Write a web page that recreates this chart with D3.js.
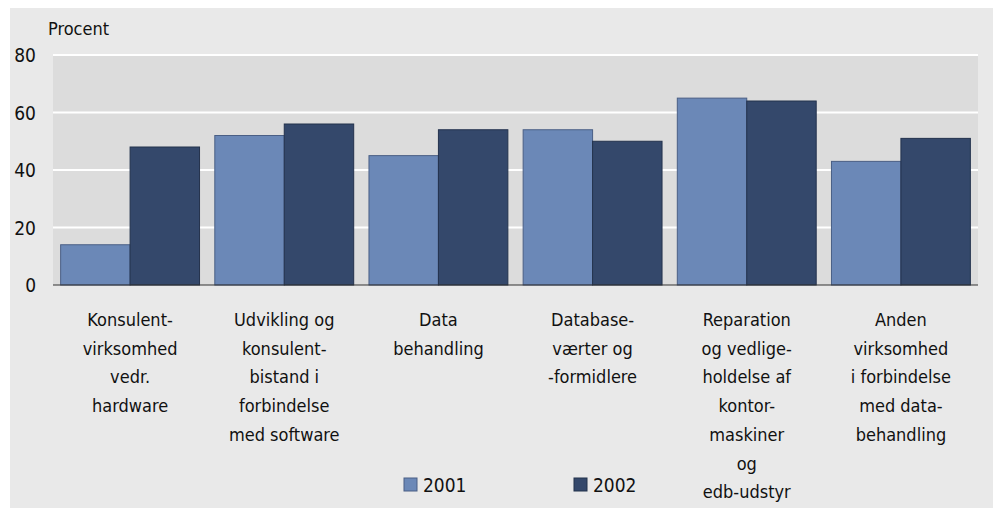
<!DOCTYPE html>
<html>
<head>
<meta charset="utf-8">
<script src="https://cdn.jsdelivr.net/npm/d3@7"></script>
<style>
  body { margin: 0; background: #fff; }
  text { font-family: "DejaVu Sans Condensed", "Liberation Sans", sans-serif; font-stretch: condensed; fill: #111; }
</style>
</head>
<body>
<div id="chart"></div>
<script>
// data
var categories = [
  ['Konsulent-', 'virksomhed', 'vedr.', 'hardware'],
  ['Udvikling og', 'konsulent-', 'bistand i', 'forbindelse', 'med software'],
  ['Data', 'behandling'],
  ['Database-', 'værter og', '-formidlere'],
  ['Reparation', 'og vedlige-', 'holdelse af', 'kontor-', 'maskiner', 'og', 'edb-udstyr'],
  ['Anden', 'virksomhed', 'i forbindelse', 'med data-', 'behandling']
];
var series = ['2001', '2002'];
var values2001 = [14, 52, 45, 54, 65, 43];
var values2002 = [48, 56, 54, 50, 64, 51];
var yTicks = [0, 20, 40, 60, 80];

var W = 997, H = 510,
    margin = { left: 53, right: 19, top: 55, bottom: 225 },
    colors = { '2001': '#6b88b7', '2002': '#34486b' },
    strokes = { '2001': '#4a5f85', '2002': '#23324d' };

var svg = d3.select('#chart').append('svg')
  .attr('width', W)
  .attr('height', H);

// outer background
svg.append('rect')
  .attr('x', 10).attr('y', 8)
  .attr('width', 983).attr('height', 500)
  .attr('fill', '#e9e9e9');

var x0 = d3.scaleBand()
  .domain(d3.range(categories.length))
  .range([margin.left, W - margin.right])
  .paddingInner(0).paddingOuter(0);

var x1 = d3.scaleBand()
  .domain(series)
  .range([0, x0.bandwidth()])
  .paddingOuter(0.11);

var y = d3.scaleLinear()
  .domain([0, 80])
  .range([H - margin.bottom, margin.top]);

// plot area
svg.append('rect')
  .attr('x', margin.left).attr('y', y(80))
  .attr('width', W - margin.right - margin.left)
  .attr('height', y(0) - y(80))
  .attr('fill', '#dcdcdc');

// grid
svg.selectAll('.grid').data(yTicks.filter(function(d) { return d > 0; }))
  .enter().append('line')
    .attr('class', 'grid')
    .attr('x1', margin.left).attr('x2', W - margin.right)
    .attr('y1', function(d) { return y(d); })
    .attr('y2', function(d) { return y(d); })
    .attr('stroke', '#fff')
    .attr('stroke-width', 2);

// y tick labels
svg.selectAll('.ytick').data(yTicks)
  .enter().append('text')
    .attr('class', 'ytick')
    .attr('x', 36)
    .attr('y', function(d) { return y(d) + 7; })
    .attr('text-anchor', 'end')
    .style('font-size', '19px')
    .text(String);

svg.append('text')
  .attr('x', 48).attr('y', 35)
  .style('font-size', '18px')
  .text('Procent');

// bars
var rows = categories.map(function(c, i) {
  return { i: i, vals: [ { k: '2001', v: values2001[i] }, { k: '2002', v: values2002[i] } ] };
});

var groups = svg.selectAll('.group').data(rows)
  .enter().append('g')
    .attr('class', 'group')
    .attr('transform', function(d) { return 'translate(' + x0(d.i) + ',0)'; });

groups.selectAll('rect').data(function(d) { return d.vals; })
  .enter().append('rect')
    .attr('x', function(d) { return x1(d.k); })
    .attr('y', function(d) { return y(d.v); })
    .attr('width', x1.bandwidth())
    .attr('height', function(d) { return y(0) - y(d.v); })
    .attr('fill', function(d) { return colors[d.k]; })
    .attr('stroke', function(d) { return strokes[d.k]; })
    .attr('stroke-width', 1);

// zero axis line
svg.append('line')
  .attr('x1', margin.left).attr('x2', W - margin.right)
  .attr('y1', y(0)).attr('y2', y(0))
  .attr('stroke', '#333').attr('stroke-width', 1);

// category labels
var labels = svg.selectAll('.cat').data(categories)
  .enter().append('text')
    .attr('class', 'cat')
    .attr('text-anchor', 'middle')
    .style('font-size', '18px');

labels.selectAll('tspan').data(function(d, i) {
    return d.map(function(s) { return { s: s, i: i }; });
  })
  .enter().append('tspan')
    .attr('x', function(d) { return x0(d.i) + x0.bandwidth() / 2; })
    .attr('y', function(d, j) { return 326 + j * 28.7; })
    .text(function(d) { return d.s; });

// legend
var legendX = { '2001': 404, '2002': 574 };
var legend = svg.selectAll('.legend').data(series)
  .enter().append('g')
    .attr('class', 'legend')
    .attr('transform', function(d) { return 'translate(' + legendX[d] + ',478)'; });

legend.append('rect')
  .attr('width', 13).attr('height', 13)
  .attr('fill', function(d) { return colors[d]; })
  .attr('stroke', function(d) { return strokes[d]; });

legend.append('text')
  .attr('x', 19).attr('y', 14)
  .style('font-size', '19px')
  .text(String);
</script>
</body>
</html>
